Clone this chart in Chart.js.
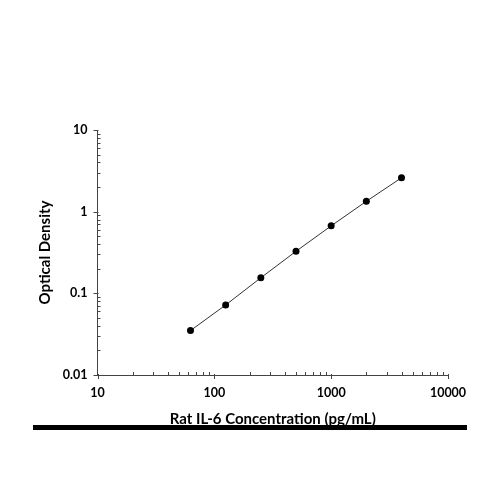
<!DOCTYPE html>
<html>
<head>
<meta charset="utf-8">
<script src="https://cdn.jsdelivr.net/npm/chart.js@4.4.0/dist/chart.umd.min.js"></script>
<style>
    html, body { margin: 0; padding: 0; background: #fff; }
    #wrap { width: 500px; height: 500px; position: relative; }
</style>
</head>
<body>
<div id="wrap"><canvas id="myLineChart"></canvas></div>
<script>
    // standard curve
    const concentration = [62.5, 125, 250, 500, 1000, 2000, 4000]; // pg/mL
    const opticalDensity = [0.035, 0.072, 0.155, 0.327, 0.67, 1.34, 2.6];

    // axis labels
    const xTickLabels = [10, 100, 1000, 10000];
    const yTickLabels = [0.01, 0.1, 1, 10];
    const minorSteps = [2, 3, 4, 5, 6, 7, 8, 9];

    const axisColor = "#444";

    // minor / major ticks (minor ones point into the plot)
    const tickPlugin = {
        id: "logTicks",
        afterDraw(chart) {
            const ctx = chart.ctx;
            const xs = chart.scales.x;
            const ys = chart.scales.y;
            ctx.save();
            ctx.strokeStyle = axisColor;
            ctx.lineWidth = 1;
            ctx.beginPath();
            xTickLabels.forEach((v, i) => {
                const px = Math.round(xs.getPixelForValue(v)) + 0.5;
                ctx.moveTo(px, xs.top - 1);
                ctx.lineTo(px, xs.top + 4);
                if (i < xTickLabels.length - 1) {
                    minorSteps.forEach((m) => {
                        const mx = Math.round(xs.getPixelForValue(v * m)) + 0.5;
                        ctx.moveTo(mx, xs.top);
                        ctx.lineTo(mx, xs.top - 3);
                    });
                }
            });
            yTickLabels.forEach((v, i) => {
                const py = Math.round(ys.getPixelForValue(v)) + 0.5;
                ctx.moveTo(ys.right - 4, py);
                ctx.lineTo(ys.right + 1, py);
                if (i < yTickLabels.length - 1) {
                    minorSteps.forEach((m) => {
                        const my = Math.round(ys.getPixelForValue(v * m)) + 0.5;
                        ctx.moveTo(ys.right, my);
                        ctx.lineTo(ys.right + 3, my);
                    });
                }
            });
            ctx.stroke();

            // thick black rule under the x title
            ctx.fillStyle = "#000";
            ctx.fillRect(33, 425, 434, 5);
            ctx.restore();
        },
    };

    const ctx = document.getElementById("myLineChart");

    new Chart(ctx, {
        type: "line",
        data: {
            datasets: [
                {
                    data: concentration.map((c, i) => ({ x: c, y: opticalDensity[i] })),
                    borderColor: "#333",
                    borderWidth: 1,
                    backgroundColor: "#000",
                    pointRadius: 3.5,
                    pointHoverRadius: 3.5,
                    pointBorderWidth: 0,
                    tension: 0,
                    fill: false,
                },
            ],
        },
        options: {
            responsive: true,
            maintainAspectRatio: false,
            animation: false,
            layout: {
                padding: { left: 0, right: 52, top: 130, bottom: 65 },
            },
            scales: {
                x: {
                    type: "logarithmic",
                    min: 10,
                    max: 10000,
                    afterBuildTicks: (scale) => {
                        scale.ticks = xTickLabels.map((v) => ({ value: v }));
                    },
                    afterFit: (scale) => {
                        scale.height = 60;
                    },
                    border: { display: true, color: axisColor, width: 1 },
                    grid: { display: false, drawTicks: false },
                    ticks: {
                        color: "#000",
                        padding: 10,
                        maxRotation: 0,
                        autoSkip: false,
                        font: { family: "Lato", size: 12.5, weight: "bold" },
                        callback: (v) => String(v),
                    },
                    title: {
                        display: true,
                        text: "Rat IL-6 Concentration (pg/mL)",
                        color: "#000",
                        padding: { top: 0, bottom: 6.5 },
                        font: { family: "Lato", size: 15, weight: "bold" },
                    },
                },
                y: {
                    type: "logarithmic",
                    min: 0.01,
                    max: 10,
                    afterBuildTicks: (scale) => {
                        scale.ticks = yTickLabels.map((v) => ({ value: v }));
                    },
                    afterFit: (scale) => {
                        scale.width = 97.5;
                    },
                    border: { display: true, color: axisColor, width: 1 },
                    grid: { display: false, drawTicks: false },
                    ticks: {
                        color: "#000",
                        padding: 10,
                        autoSkip: false,
                        font: { family: "Lato", size: 12.5, weight: "bold" },
                        callback: (v) => String(v),
                    },
                    title: {
                        display: true,
                        text: "Optical Density",
                        color: "#000",
                        padding: { top: 36, bottom: 0 },
                        font: { family: "Lato", size: 15, weight: "bold" },
                    },
                },
            },
            plugins: {
                legend: { display: false },
                tooltip: { enabled: false },
            },
        },
        plugins: [tickPlugin],
    });
</script>
</body>
</html>
